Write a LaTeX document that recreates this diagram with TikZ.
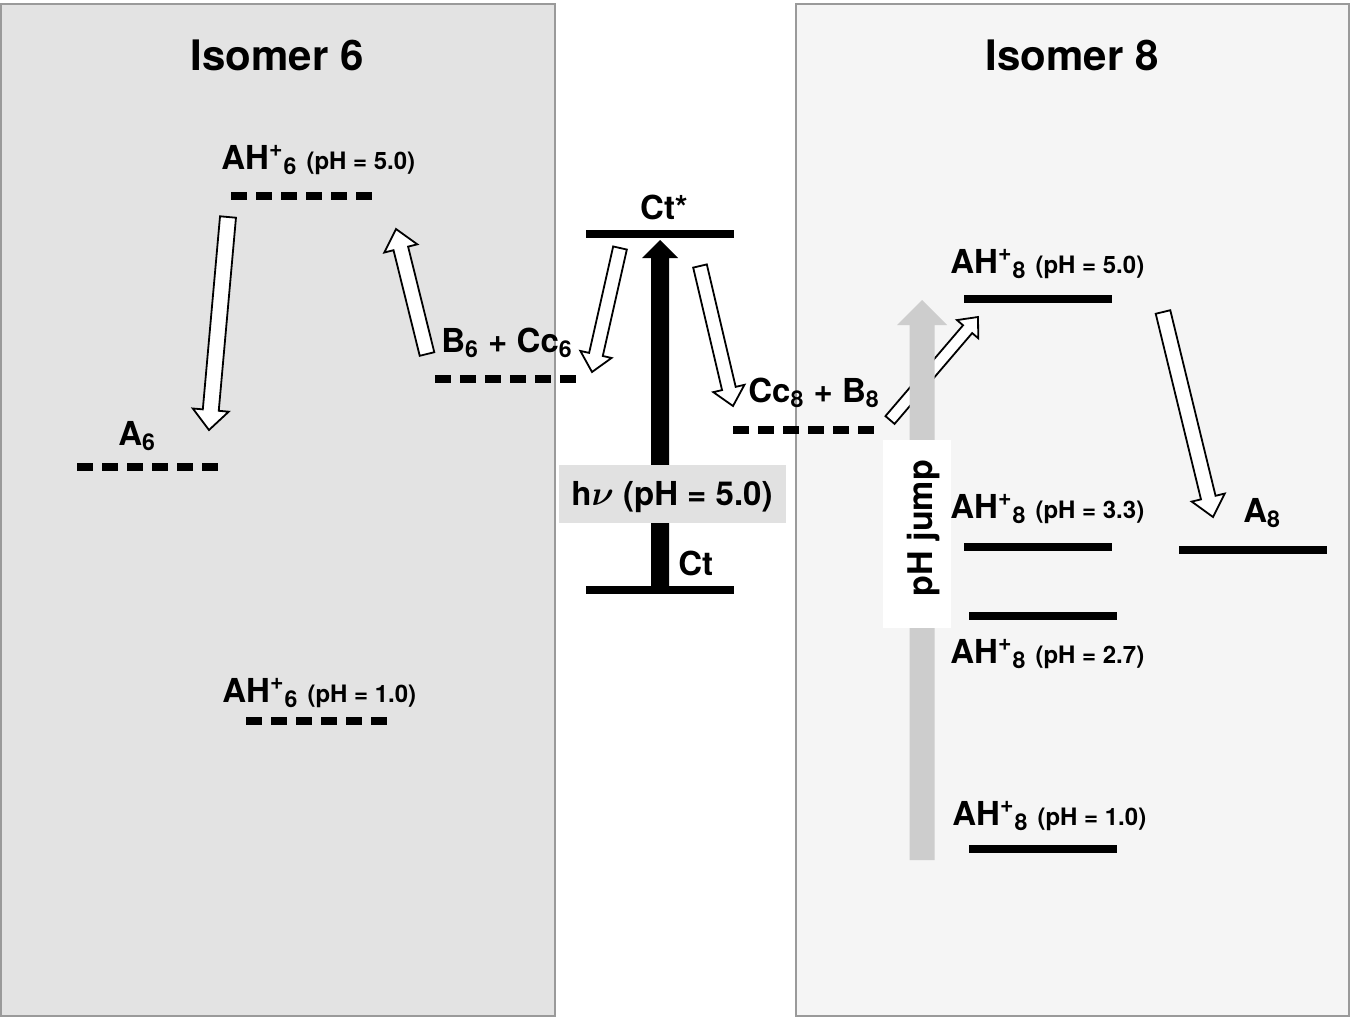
\documentclass[tikz,border=0pt]{standalone}
\usepackage{fontspec}
\setmainfont{TeX Gyre Heros}
\usetikzlibrary{calc}

\definecolor{isoA}{HTML}{E3E3E3}
\definecolor{isoB}{HTML}{F5F5F5}
\definecolor{rand}{HTML}{9A9A9A}
\definecolor{jump}{HTML}{CDCDCD}
\definecolor{hvbox}{HTML}{E1E1E1}

\tikzset{
  paneel/.style={draw=rand, line width=1pt},
  lvl/.style={line width=4pt},
  dashlvl/.style={line width=4pt, dash pattern=on 8pt off 4.5pt},
  holpijl/.style={draw=black, fill=white, line width=0.9pt},
  lbl/.style={font=\fontsize{16.5}{18}\selectfont\bfseries, inner sep=0pt, anchor=base west},
  titel/.style={font=\fontsize{21}{24}\selectfont\bfseries, inner sep=0pt, anchor=base},
}

\newcommand{\ahp}[2]{AH\textsuperscript{+}\textsubscript{#1}\ {\fontsize{12}{14}\selectfont(pH = #2)}}

% blokpijl: [stijl]{staart}{punt}{halve schacht}{halve kop}{kop lengte}
\newcommand{\blokpijl}[6][]{%
  \coordinate (bp) at ($(#3)!#6!(#2)$);
  \path[#1] ($(#2)!#4!90:(#3)$) -- ($(bp)!#4!90:(#3)$) -- ($(bp)!#5!90:(#3)$) -- (#3)
    -- ($(bp)!#5!-90:(#3)$) -- ($(bp)!#4!-90:(#3)$) -- ($(#2)!#4!-90:(#3)$) -- cycle;
}

\begin{document}
\begin{tikzpicture}[x=0.5pt, y=-0.5pt]
	\useasboundingbox (0,0) rectangle (1354,1017);
	
	% panelen
	\draw[paneel, fill=isoA] (1,4) rectangle (555,1016);
	\draw[paneel, fill=isoB] (796,4) rectangle (1349,1016);
	\node[titel] (t6) at (277,70) {Isomer 6};
	\node[titel] (t8) at (1072,70) {Isomer 8};
	
	% niveaus isomeer 6
	\coordinate (ah6a-l) at (231,196); \coordinate (ah6a-r) at (373,196);
	\coordinate (a6-l) at (77,467);    \coordinate (a6-r) at (219,467);
	\coordinate (b6-l) at (435,379);   \coordinate (b6-r) at (577,379);
	\coordinate (ah6b-l) at (246,721); \coordinate (ah6b-r) at (388,721);
	\draw[dashlvl] (ah6a-l) -- (ah6a-r);
	\draw[dashlvl] (a6-l) -- (a6-r);
	\draw[dashlvl] (b6-l) -- (b6-r);
	\draw[dashlvl] (ah6b-l) -- (ah6b-r);
	
	% Ct niveaus
	\coordinate (ctx-l) at (586,234); \coordinate (ctx-r) at (734,234);
	\coordinate (ct-l) at (586,590);  \coordinate (ct-r) at (734,590);
	\coordinate (cc8-l) at (733,430); \coordinate (cc8-r) at (875,430);
	\draw[lvl] (ctx-l) -- (ctx-r);
	\draw[lvl] (ct-l) -- (ct-r);
	\draw[dashlvl] (cc8-l) -- (cc8-r);
	
	% niveaus isomeer 8
	\coordinate (ah8a-l) at (964,299);  \coordinate (ah8a-r) at (1112,299);
	\coordinate (ah8b-l) at (964,547);  \coordinate (ah8b-r) at (1112,547);
	\coordinate (ah8c-l) at (969,616);  \coordinate (ah8c-r) at (1117,616);
	\coordinate (ah8d-l) at (969,849);  \coordinate (ah8d-r) at (1117,849);
	\coordinate (a8-l) at (1179,550);   \coordinate (a8-r) at (1327,550);
	\foreach \n in {ah8a,ah8b,ah8c,ah8d,a8}
		\draw[lvl] (\n-l) -- (\n-r);
	
	% pijlen
	\coordinate (p1-s) at (228,217);  \coordinate (p1-e) at (209,430);
	\coordinate (p2-s) at (427,354);  \coordinate (p2-e) at (396,229);
	\coordinate (p3-s) at (620,248);  \coordinate (p3-e) at (592,372);
	\coordinate (p4-s) at (700,266);  \coordinate (p4-e) at (733,406);
	\coordinate (p5-s) at (890,420);  \coordinate (p5-e) at (978,317);
	\coordinate (p6-s) at (1163,312); \coordinate (p6-e) at (1213,517);
	\coordinate (hv-s) at (660,590);  \coordinate (hv-e) at (660,240);
	\coordinate (ph-s) at (922,860);  \coordinate (ph-e) at (922,300);
	\blokpijl[holpijl]{p1-s}{p1-e}{4pt}{9pt}{10pt}
	\blokpijl[holpijl]{p2-s}{p2-e}{3.75pt}{8.5pt}{10pt}
	\blokpijl[holpijl]{p3-s}{p3-e}{3.5pt}{8pt}{9pt}
	\blokpijl[holpijl]{p4-s}{p4-e}{3.5pt}{8pt}{9pt}
	\blokpijl[holpijl]{p5-s}{p5-e}{3pt}{7pt}{8pt}
	\blokpijl[holpijl]{p6-s}{p6-e}{3.75pt}{8.5pt}{10pt}
	\blokpijl[fill=black]{hv-s}{hv-e}{4.5pt}{9pt}{9pt}
	\blokpijl[fill=jump]{ph-s}{ph-e}{6.25pt}{12.5pt}{12.5pt}
	
	% kaders
	\fill[white] (883,440) rectangle (951,628);
	\node[font=\fontsize{17}{20}\selectfont\bfseries, inner sep=0pt, rotate=90] (phj) at (924,528) {pH jump};
	\fill[hvbox] (559,465) rectangle (786,523);
	\node[lbl, anchor=base] (hv) at (672,505) {h{\boldmath$\nu$} (pH = 5.0)};
	
	% labels
	\node[lbl] (l-ah6a) at (221,169) {\ahp{6}{5.0}};
	\node[lbl] (l-ah6b) at (222,702) {\ahp{6}{1.0}};
	\node[lbl] (l-a6) at (118,445) {A\textsubscript{6}};
	\node[lbl] (l-b6) at (441,352) {B\textsubscript{6} + Cc\textsubscript{6}};
	\node[lbl, anchor=base] (l-ctx) at (664,219) {Ct*};
	\node[lbl] (l-ct) at (678,575) {Ct};
	\node[lbl] (l-cc8) at (748,402) {Cc\textsubscript{8} + B\textsubscript{8}};
	\node[lbl] (l-ah8a) at (950,273) {\ahp{8}{5.0}};
	\node[lbl] (l-ah8b) at (950,518) {\ahp{8}{3.3}};
	\node[lbl] (l-ah8c) at (950,663) {\ahp{8}{2.7}};
	\node[lbl] (l-ah8d) at (952,825) {\ahp{8}{1.0}};
	\node[lbl] (l-a8) at (1243,522) {A\textsubscript{8}};
\end{tikzpicture}
\end{document}
